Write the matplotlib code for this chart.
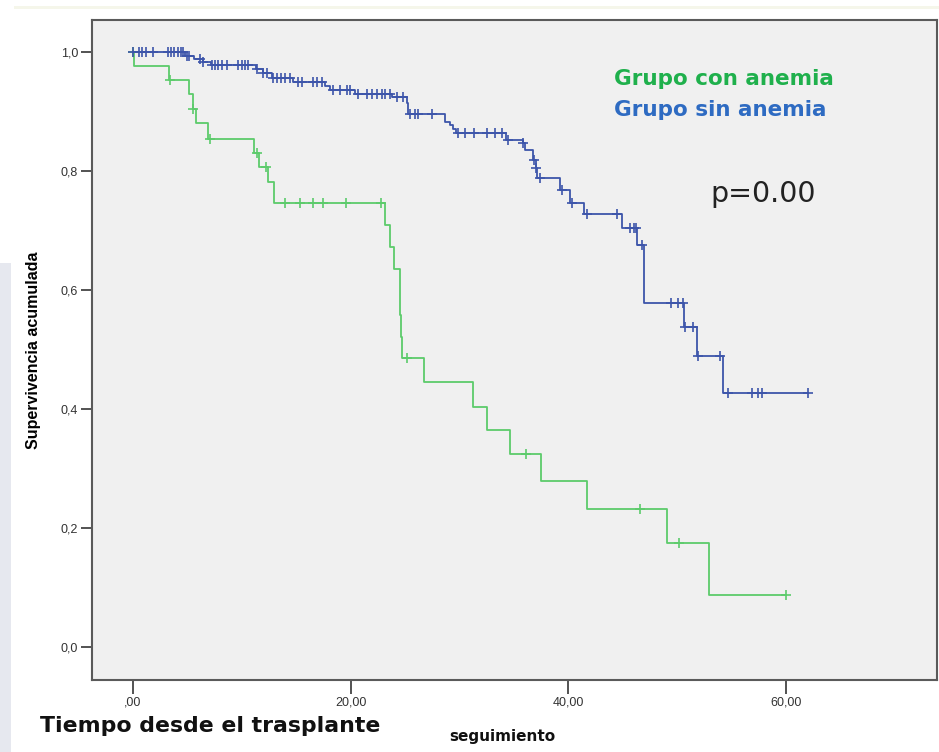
import numpy as np
import matplotlib.pyplot as plt
from matplotlib.patches import Rectangle

# Kaplan-Meier steps: (time of drop, survival after drop)
green_times = [0.0, 0.1, 3.3, 5.1, 5.5, 5.8, 6.9, 11.1, 11.6, 12.4, 13.0,
               23.2, 23.6, 24.0, 24.5, 24.6, 24.7, 26.7, 31.2, 32.5, 34.6,
               37.5, 41.7, 49.1, 52.9]
green_surv = [1.0, 0.976, 0.953, 0.929, 0.904, 0.881, 0.854, 0.830, 0.806,
              0.781, 0.746, 0.709, 0.672, 0.635, 0.558, 0.521, 0.486, 0.445,
              0.403, 0.365, 0.324, 0.279, 0.232, 0.175, 0.087]
green_end = 60.0
green_cens = [0.0, 3.4, 5.55, 7.1, 11.4, 12.2, 14.0, 15.3, 16.5, 17.5, 19.6,
              22.8, 25.2, 36.1, 46.6, 50.2, 60.0]

blue_times = [0.0, 4.8, 5.6, 6.4, 7.2, 11.3, 11.9, 12.8, 14.7, 17.6, 18.1,
              20.4, 23.8, 25.2, 25.3, 28.7, 29.1, 29.4, 29.7, 34.3, 35.8,
              36.0, 36.8, 37.0, 37.1, 39.2, 40.2, 41.4, 44.9, 46.3, 47.0,
              50.6, 51.8, 54.2]
blue_surv = [1.0, 0.993, 0.988, 0.983, 0.978, 0.972, 0.964, 0.957, 0.950,
             0.943, 0.936, 0.930, 0.924, 0.914, 0.895, 0.882, 0.877, 0.870,
             0.864, 0.852, 0.847, 0.835, 0.818, 0.805, 0.788, 0.768, 0.746,
             0.728, 0.704, 0.676, 0.578, 0.538, 0.489, 0.427]
blue_end = 62.0
blue_cens = [0.0, 0.55, 0.83, 1.2, 1.8, 3.2, 3.5, 3.8, 4.1, 4.4, 4.6,
             4.96, 5.15, 6.16, 6.43, 7.26, 7.54, 7.81, 8.18, 8.64, 9.65,
             10.0, 10.3, 10.6, 11.4, 11.95, 12.3, 12.9, 13.2, 13.6, 14.0,
             14.4, 15.2, 15.5, 16.5, 16.9, 17.4, 18.4, 19.0, 19.7, 19.9, 20.7,
             21.5, 22.0, 22.4, 22.9, 23.2, 23.6, 24.3, 24.8, 25.5, 25.9, 26.2,
             27.5, 29.9, 30.5, 31.3, 32.5, 33.3, 33.9, 34.5, 35.8, 36.85,
             37.05, 37.4, 39.4, 40.3, 41.7, 44.5, 45.7, 46.0, 46.2, 46.8,
             49.4, 50.1, 50.5, 50.7, 51.5, 51.9, 53.95, 54.7, 56.9, 57.4,
             57.8, 62.0]

x_ticks = [0, 20, 40, 60]
x_labels = [",00", "20,00", "40,00", "60,00"]
y_ticks = [0.0, 0.2, 0.4, 0.6, 0.8, 1.0]
y_labels = ["0,0", "0,2", "0,4", "0,6", "0,8", "1,0"]

green = "#5ccb6b"
blue = "#3d55aa"


def km_curve(ax, times, surv, end, cens, color):
    t = list(times) + [end]
    s = list(surv) + [surv[-1]]
    ax.step(t, s, where="post", color=color, lw=1.3, zorder=3)
    idx = np.searchsorted(times, cens, side="right") - 1
    cy = np.array(surv)[idx]
    ax.plot(cens, cy, ls="none", marker="+", ms=7, mew=1.2, color=color, zorder=4)


fig = plt.figure(figsize=(9.39, 7.52), dpi=100)
fig.patch.set_facecolor("white")

# faint slide remnants around the picture
fig.add_artist(Rectangle((0, 0), 0.012, 0.65, transform=fig.transFigure,
                         color="#e6e8ef", lw=0, zorder=0))
fig.add_artist(Rectangle((0.015, 0.988), 0.985, 0.004, transform=fig.transFigure,
                         color="#f5f6ea", lw=0, zorder=0))

ax = fig.add_axes([0.098, 0.0957, 0.9, 0.8777])
ax.set_facecolor("#f0f0f0")

km_curve(ax, green_times, green_surv, green_end, green_cens, green)
km_curve(ax, blue_times, blue_surv, blue_end, blue_cens, blue)

ax.set_xlim(-3.77, 73.9)
ax.set_ylim(-0.0555, 1.0538)

ax.set_xticks(x_ticks)
ax.set_xticklabels(x_labels, fontsize=9, family="Liberation Sans", color="#333333")
ax.set_yticks(y_ticks)
ax.set_yticklabels(y_labels, fontsize=9, family="Liberation Sans", color="#333333")
ax.tick_params(axis="x", direction="out", length=10, width=1.3, color="#444444", pad=2)
ax.tick_params(axis="y", direction="out", length=8, width=1.3, color="#444444", pad=2)

for side in ["left", "bottom", "top", "right"]:
    ax.spines[side].set_color("#5a5a5a")
    ax.spines[side].set_linewidth(1.5)

ax.set_ylabel("Supervivencia acumulada", fontsize=11.5, fontweight="bold",
              family="Liberation Sans", labelpad=14)

ax.text(0.654, 0.895, "Grupo con anemia", transform=fig.transFigure,
        fontsize=15.5, fontweight="bold", color="#1fb04c", ha="left", va="center")
ax.text(0.654, 0.854, "Grupo sin anemia", transform=fig.transFigure,
        fontsize=15.5, fontweight="bold", color="#2e6bc2", ha="left", va="center")
ax.text(0.756, 0.742, "p=0.00", transform=fig.transFigure,
        fontsize=20.5, color="#222222", ha="left", va="center")

fig.text(0.043, 0.035, "Tiempo desde el trasplante", fontsize=15.8, fontweight="bold",
         color="#111111", ha="left", va="center")
fig.text(0.478, 0.02, "seguimiento", fontsize=11, fontweight="bold",
         color="#111111", ha="left", va="center")

fig.savefig("out.png", dpi=100, facecolor=fig.get_facecolor())
